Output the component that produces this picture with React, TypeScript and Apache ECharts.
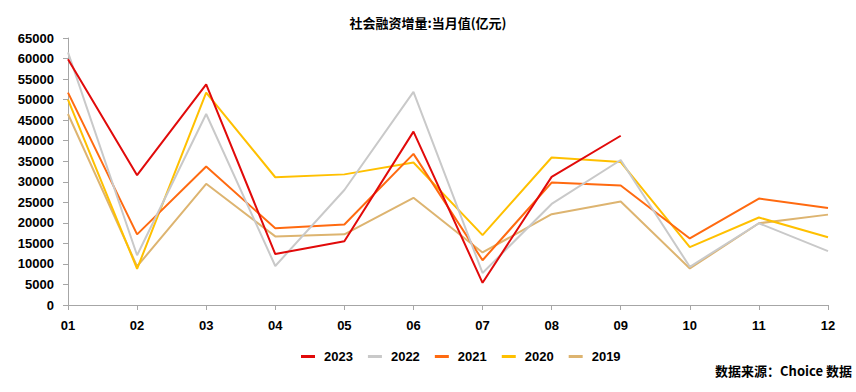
import React, { useEffect, useRef } from "react";
import * as echarts from "echarts";

const months = ["01", "02", "03", "04", "05", "06", "07", "08", "09", "10", "11", "12"];
const yTicks = [0, 5000, 10000, 15000, 20000, 25000, 30000, 35000, 40000, 45000, 50000, 55000, 60000, 65000];
const s2023 = [59800, 31600, 53700, 12400, 15500, 42200, 5400, 31200, 41200];
const s2022 = [61500, 12100, 46500, 9500, 28000, 51900, 7800, 24600, 35300, 9300, 19900, 13100];
const s2021 = [51700, 17200, 33700, 18700, 19600, 36800, 10900, 29800, 29100, 16200, 25900, 23600];
const s2020 = [50000, 8800, 51700, 31100, 31800, 34700, 17000, 35900, 34800, 14100, 21300, 16500];
const s2019 = [46500, 9400, 29500, 16700, 17200, 26100, 12800, 22100, 25200, 8900, 19900, 22000];

const names = ["2023", "2022", "2021", "2020", "2019"];
const colors = ["#E10A0A", "#C9C9C9", "#FF6A10", "#FFC000", "#DDB470"];
const seriesData = [s2023, s2022, s2021, s2020, s2019];

const FONT = "'Liberation Sans', 'Noto Sans CJK SC', sans-serif";

export default function App() {
  const ref = useRef<HTMLDivElement>(null);
  useEffect(() => {
    if (!ref.current) return;
    const chart = echarts.init(ref.current, undefined, { renderer: "svg" });
    chart.setOption({
      animation: false,
      backgroundColor: "#ffffff",
      title: {
        text: "社会融资增量:当月值(亿元)",
        left: "center",
        top: 11,
        textStyle: { fontFamily: "'Noto Sans CJK SC', sans-serif", fontSize: 13, fontWeight: "bold", color: "#000" },
      },
      legend: {
        left: 296,
        top: 345,
        itemWidth: 14,
        itemHeight: 3,
        itemGap: 15,
        icon: "rect",
        data: names,
        textStyle: { fontFamily: FONT, fontSize: 13, fontWeight: "bold", color: "#000", padding: [0, 0, 0, 4] },
      },
      graphic: [
        {
          type: "text",
          right: 4,
          top: 364,
          style: {
            text: "数据来源：Choice 数据",
            font: "bold 13px 'Noto Sans CJK SC', sans-serif",
            fill: "#000",
          },
        },
      ],
      grid: { left: 68, right: 28, top: 38, bottom: 87, containLabel: false },
      xAxis: {
        type: "category",
        data: months,
        boundaryGap: false,
        axisLine: { lineStyle: { color: "#A6A6A6", width: 1 } },
        axisTick: { show: true, length: 5, lineStyle: { color: "#A6A6A6" } },
        axisLabel: { fontFamily: FONT, fontSize: 13, fontWeight: "bold", color: "#000", margin: 14 },
        splitLine: { show: false },
      },
      yAxis: {
        type: "value",
        min: yTicks[0],
        max: yTicks[yTicks.length - 1],
        interval: 5000,
        axisLine: { show: true, lineStyle: { color: "#A6A6A6", width: 1 } },
        axisTick: { show: true, length: 5, lineStyle: { color: "#A6A6A6" } },
        axisLabel: {
          fontFamily: FONT,
          fontSize: 13,
          fontWeight: "bold",
          color: "#000",
          margin: 14,
          formatter: (v: number) => String(v),
        },
        splitLine: { show: false },
      },
      series: names.map((n, i) => ({
        name: n,
        type: "line",
        data: seriesData[i],
        symbol: "none",
        lineStyle: { color: colors[i], width: 2 },
        itemStyle: { color: colors[i] },
        z: 10 - i,
      })),
    });
    return () => chart.dispose();
  }, []);
  return (
    <div
      ref={ref}
      style={{ position: "absolute", left: 0, top: 0, width: 856, height: 392 }}
    />
  );
}
